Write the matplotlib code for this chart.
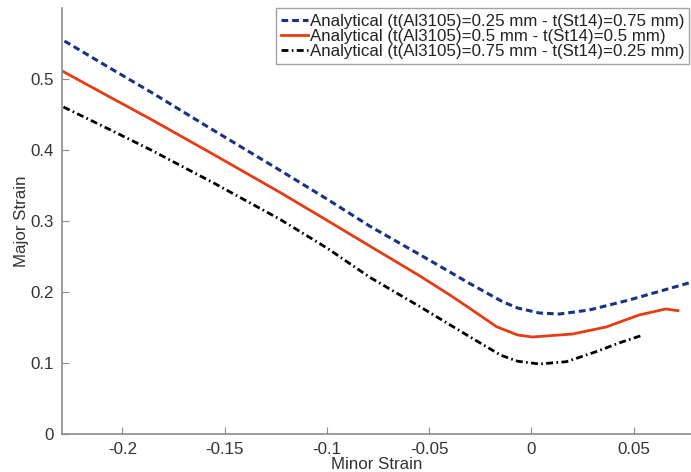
import matplotlib
matplotlib.use("Agg")
import matplotlib.pyplot as plt

plt.rcParams['font.family'] = ['Liberation Sans', 'DejaVu Sans']

blue_x = [-0.2283, -0.2070, -0.1860, -0.1550, -0.1227, -0.1000, -0.0789, -0.0545,
          -0.0302, -0.0141, -0.0068, 0.0039, 0.0136, 0.0282, 0.0477, 0.0769]
blue_y = [0.5535, 0.5170, 0.4815, 0.4270, 0.3710, 0.3310, 0.2925, 0.2525,
          0.2120, 0.1863, 0.1775, 0.1704, 0.1690, 0.1746, 0.1887, 0.2127]

red_x = [-0.2288, -0.2070, -0.1860, -0.1550, -0.1227, -0.1000, -0.0789, -0.0545,
         -0.0400, -0.0302, -0.0170, -0.0068, 0.0005, 0.0200, 0.0365, 0.0526,
         0.0657, 0.0716]
red_y = [0.5103, 0.4760, 0.4432, 0.3930, 0.3399, 0.3010, 0.2645, 0.2225,
         0.1960, 0.1770, 0.1510, 0.1395, 0.1366, 0.1408, 0.1507, 0.1676,
         0.1761, 0.1737]

black_x = [-0.2288, -0.2070, -0.1860, -0.1550, -0.1227, -0.1000, -0.0789, -0.0545,
           -0.0302, -0.0150, -0.0068, 0.0039, 0.0170, 0.0316, 0.0428, 0.0545]
black_y = [0.4606, 0.4300, 0.4000, 0.3530, 0.3020, 0.2620, 0.2205, 0.1793,
           0.1370, 0.1110, 0.1025, 0.0986, 0.1018, 0.1159, 0.1282, 0.1394]

labels = ["Analytical (t(Al3105)=0.25 mm - t(St14)=0.75 mm)",
          "Analytical (t(Al3105)=0.5 mm - t(St14)=0.5 mm)",
          "Analytical (t(Al3105)=0.75 mm - t(St14)=0.25 mm)"]

xticks = [-0.2, -0.15, -0.1, -0.05, 0, 0.05]
xticklabels = ["-0.2", "-0.15", "-0.1", "-0.05", "0", "0.05"]
yticks = [0, 0.1, 0.2, 0.3, 0.4, 0.5]
yticklabels = ["0", "0.1", "0.2", "0.3", "0.4", "0.5"]

fig = plt.figure(figsize=(6.91, 4.72), dpi=100)
ax = fig.add_axes([62/691, 1-434/472, 1-62/691, (434-8)/472])

ax.plot(blue_x, blue_y, color='#1a3282', lw=2.2, ls=(0, (2.2, 1.3)), label=labels[0])
ax.plot(red_x, red_y, color='#e63c14', lw=2.0, ls='-', label=labels[1])
ax.plot(black_x, black_y, color='black', lw=2.0, ls=(0, (2.5, 1.2, 0.6, 1.2)), label=labels[2])

ax.set_xlim(-0.2295, 0.078)
ax.set_ylim(0, 0.6)
ax.set_xticks(xticks)
ax.set_xticklabels(xticklabels)
ax.set_yticks(yticks)
ax.set_yticklabels(yticklabels)

for s in ['top', 'right']:
    ax.spines[s].set_visible(False)
for s in ['left', 'bottom']:
    ax.spines[s].set_color('#8c8c8c')
    ax.spines[s].set_linewidth(1.2)
ax.tick_params(direction='in', length=5, color='#8c8c8c', labelsize=12.2,
               labelcolor='#333333', pad=6)

ax.set_xlabel("Minor Strain", fontsize=12.2, color='#333333', labelpad=0)
ax.set_ylabel("Major Strain", fontsize=12.2, color='#333333', labelpad=1)

leg = ax.legend(loc='upper right', bbox_to_anchor=(0.997, 0.999), fontsize=12.2,
                frameon=True, fancybox=False, handlelength=1.6, handletextpad=0.1,
                labelspacing=0.02, borderpad=0.3, borderaxespad=0)
leg.get_frame().set_edgecolor('#8c8c8c')
leg.get_frame().set_linewidth(1.0)
for t in leg.get_texts():
    t.set_color('#222222')

fig.savefig("out.png", dpi=100)
